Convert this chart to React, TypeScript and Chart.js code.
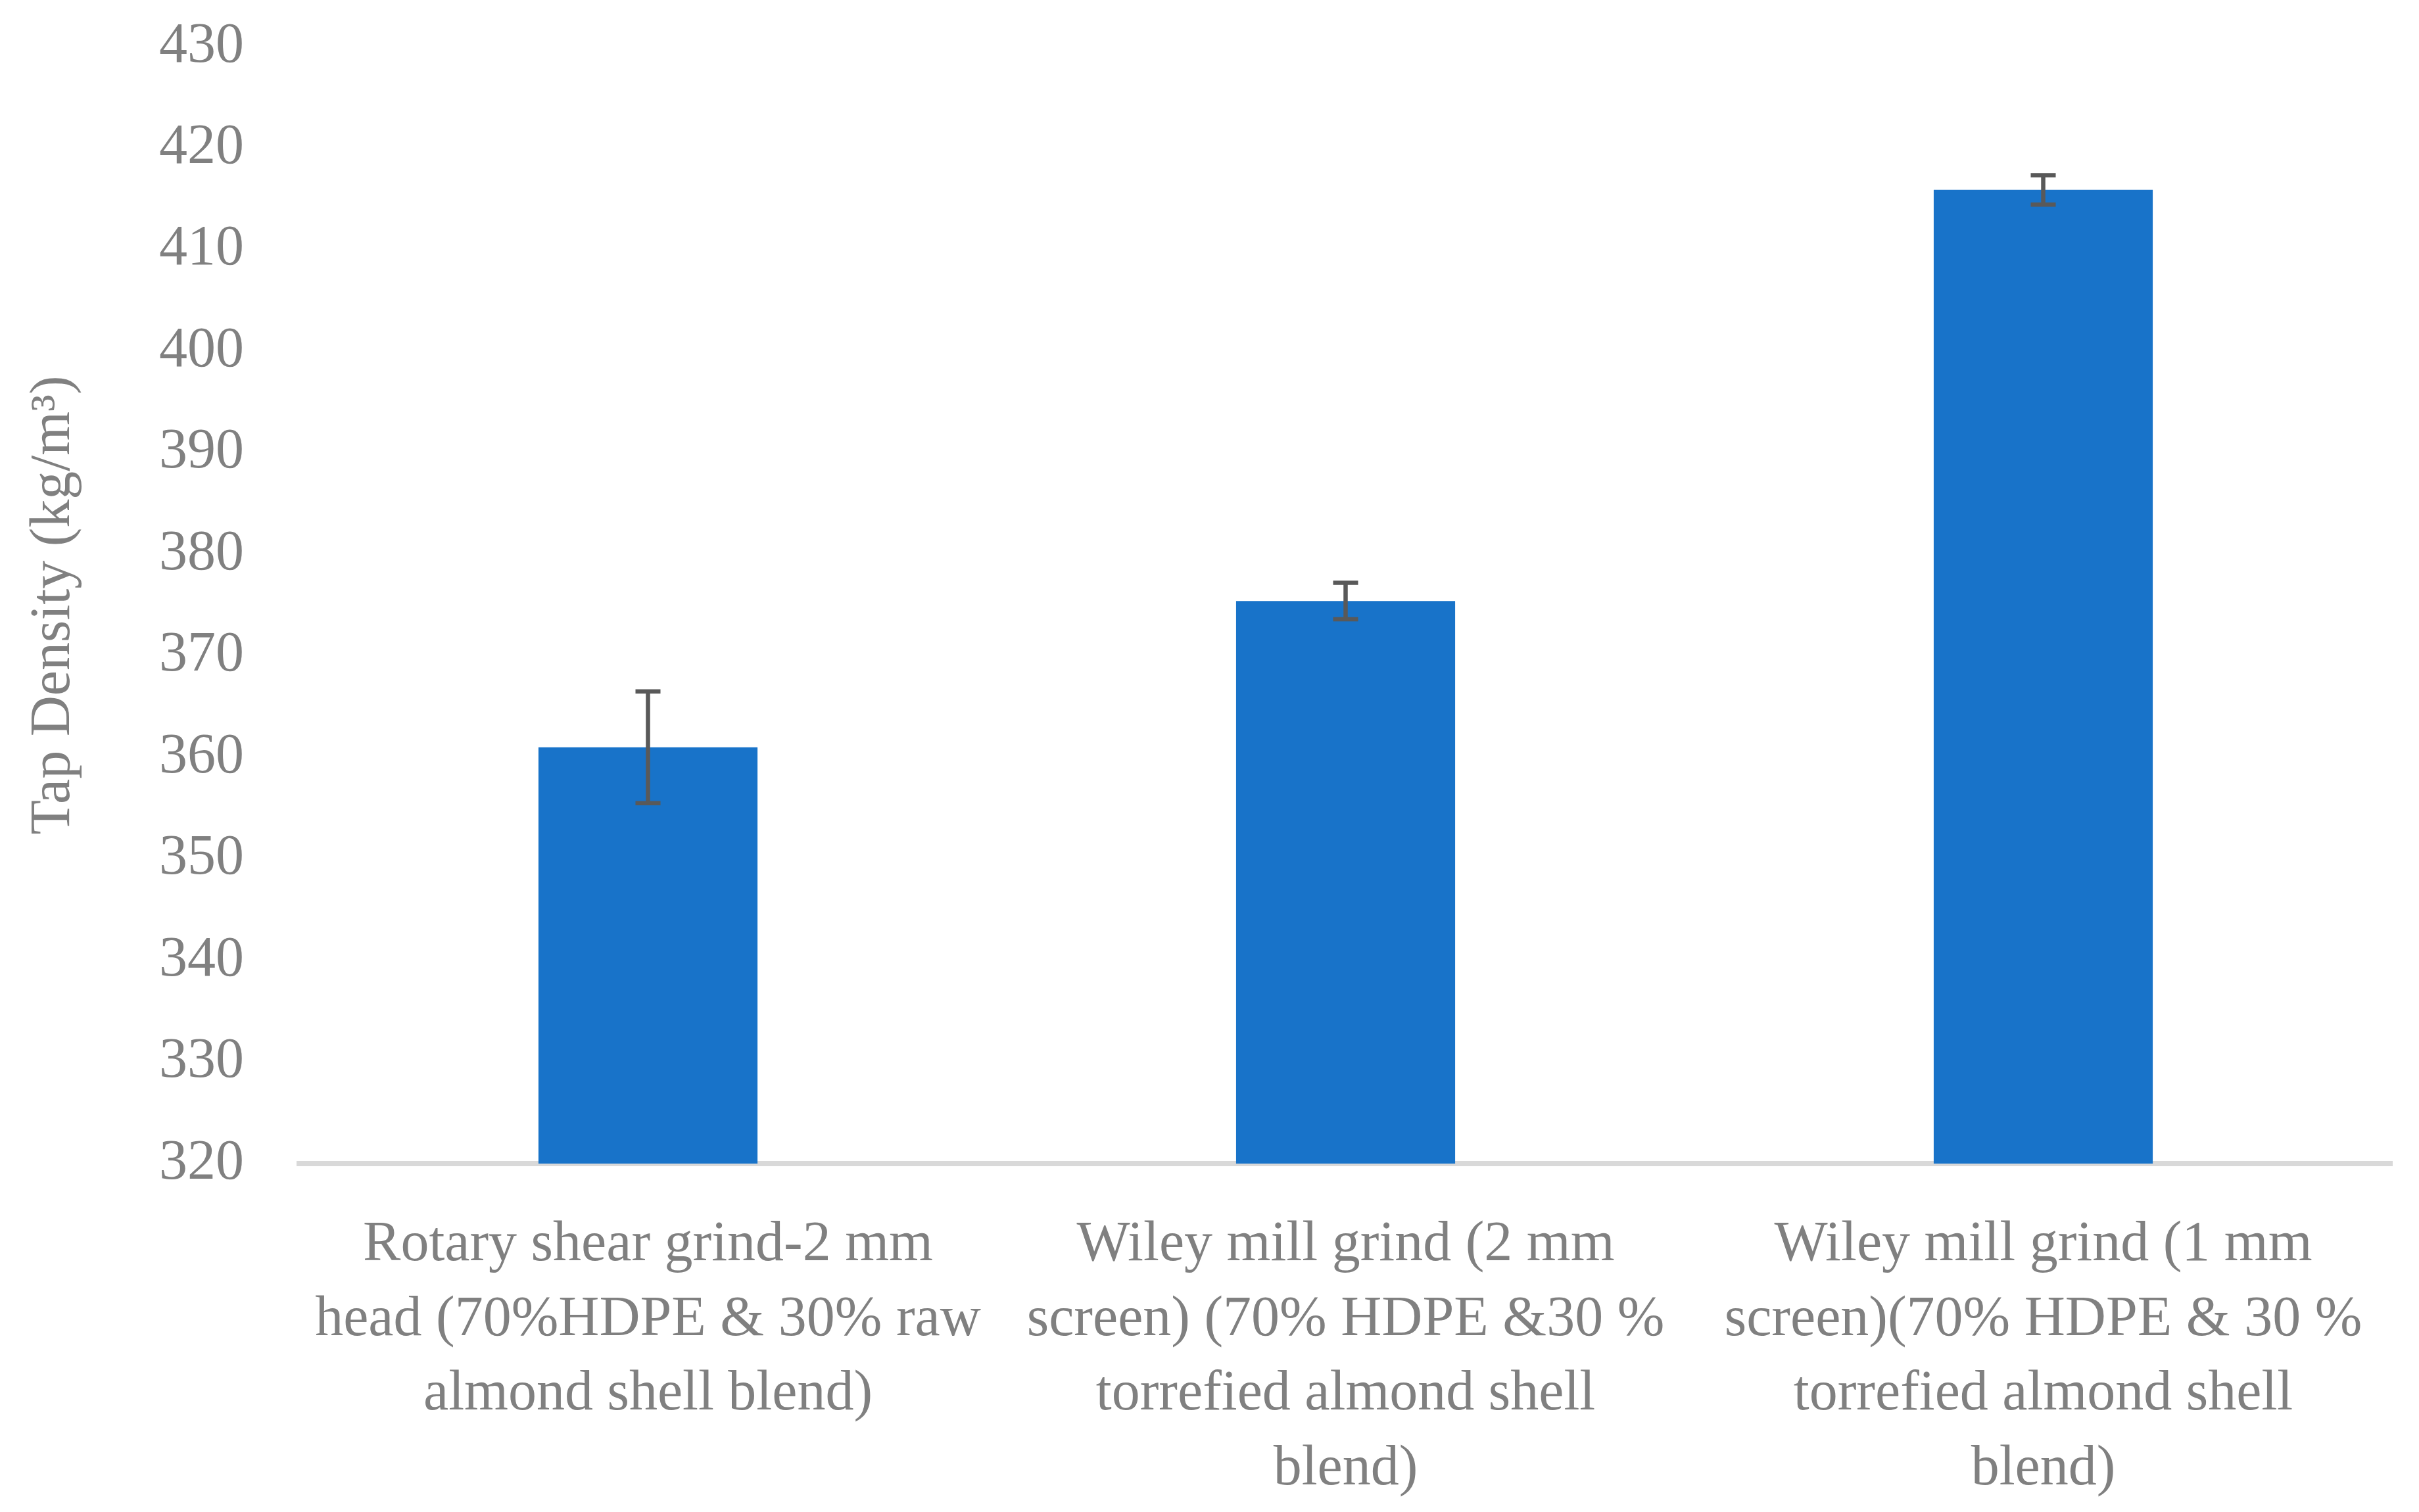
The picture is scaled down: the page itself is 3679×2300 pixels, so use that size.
import { useRef, useEffect } from "react";
import { Chart, registerables } from "chart.js";

Chart.register(...registerables);

const categories = [
  ["Rotary shear grind-2 mm", "head (70%HDPE & 30% raw", "almond shell blend)"],
  ["Wiley mill grind (2 mm", "screen) (70% HDPE &30 %", "torrefied almond shell", "blend)"],
  ["Wiley mill grind (1 mm", "screen)(70% HDPE & 30 %", "torrefied almond shell", "blend)"],
];
const tapDensity = [361.0, 375.4, 415.9];
const tapDensityErr = [5.5, 1.8, 1.45];

const yMin = 320;
const yMax = 430;
const yStep = 10;

const textGray = "#808080";
const fontFamily = "'Liberation Serif', 'Times New Roman', serif";

// simple error bar drawing, uses the y scale for positions
const errorBars = {
  id: "errorBars",
  afterDatasetsDraw(chart: any) {
    const ctx = chart.ctx;
    const meta = chart.getDatasetMeta(0);
    const y = chart.scales.y;
    ctx.save();
    ctx.strokeStyle = "#595959";
    ctx.lineWidth = 6.5;
    meta.data.forEach((bar: any, i: number) => {
      const top = y.getPixelForValue(tapDensity[i] + tapDensityErr[i]);
      const bottom = y.getPixelForValue(tapDensity[i] - tapDensityErr[i]);
      const cap = 19;
      ctx.beginPath();
      ctx.moveTo(bar.x, top);
      ctx.lineTo(bar.x, bottom);
      ctx.moveTo(bar.x - cap, top);
      ctx.lineTo(bar.x + cap, top);
      ctx.moveTo(bar.x - cap, bottom);
      ctx.lineTo(bar.x + cap, bottom);
      ctx.stroke();
    });
    ctx.restore();
  },
};

const App = () => {
  const canvasRef = useRef<HTMLCanvasElement>(null);

  useEffect(() => {
    document.body.style.margin = "0";
    const ctx = canvasRef.current?.getContext("2d");
    if (!ctx) return;

    const myChart = new Chart(ctx, {
      type: "bar",
      data: {
        labels: categories,
        datasets: [
          {
            label: "Tap Density",
            data: tapDensity,
            backgroundColor: "#1873C9",
            categoryPercentage: 1,
            barPercentage: 0.314,
          },
        ],
      },
      plugins: [errorBars],
      options: {
        animation: false,
        responsive: true,
        maintainAspectRatio: false,
        layout: {
          padding: { top: 71, left: 0, right: 41, bottom: 0 },
        },
        plugins: {
          legend: { display: false },
          tooltip: { enabled: false },
        },
        scales: {
          x: {
            grid: { display: false },
            border: { display: true, color: "#d9d9d9", width: 8 },
            ticks: {
              color: textGray,
              font: { family: fontFamily, size: 86, lineHeight: 1.32 },
              padding: 60,
              maxRotation: 0,
              autoSkip: false,
            },
            afterFit: (scale: any) => {
              scale.height = 530;
            },
          },
          y: {
            min: yMin,
            max: yMax,
            // invisible tick marks only to space the labels from the plot
            grid: {
              display: true,
              drawOnChartArea: false,
              drawTicks: true,
              tickLength: 84,
              color: "rgba(0,0,0,0)",
            },
            border: { display: false },
            ticks: {
              stepSize: yStep,
              color: textGray,
              font: { family: fontFamily, size: 86 },
              padding: 0,
            },
            title: {
              display: true,
              text: "Tap Density (kg/m³)",
              color: textGray,
              font: { family: fontFamily, size: 86, lineHeight: 1.2 },
              padding: { top: 31, bottom: 0 },
            },
            afterFit: (scale: any) => {
              scale.width = 455;
            },
          },
        },
      },
    });

    return () => {
      myChart.destroy();
    };
  }, []);

  return (
    <div style={{ width: "3679px", height: "2300px", position: "relative", background: "#fff" }}>
      <canvas ref={canvasRef}></canvas>
    </div>
  );
};

export default App;
